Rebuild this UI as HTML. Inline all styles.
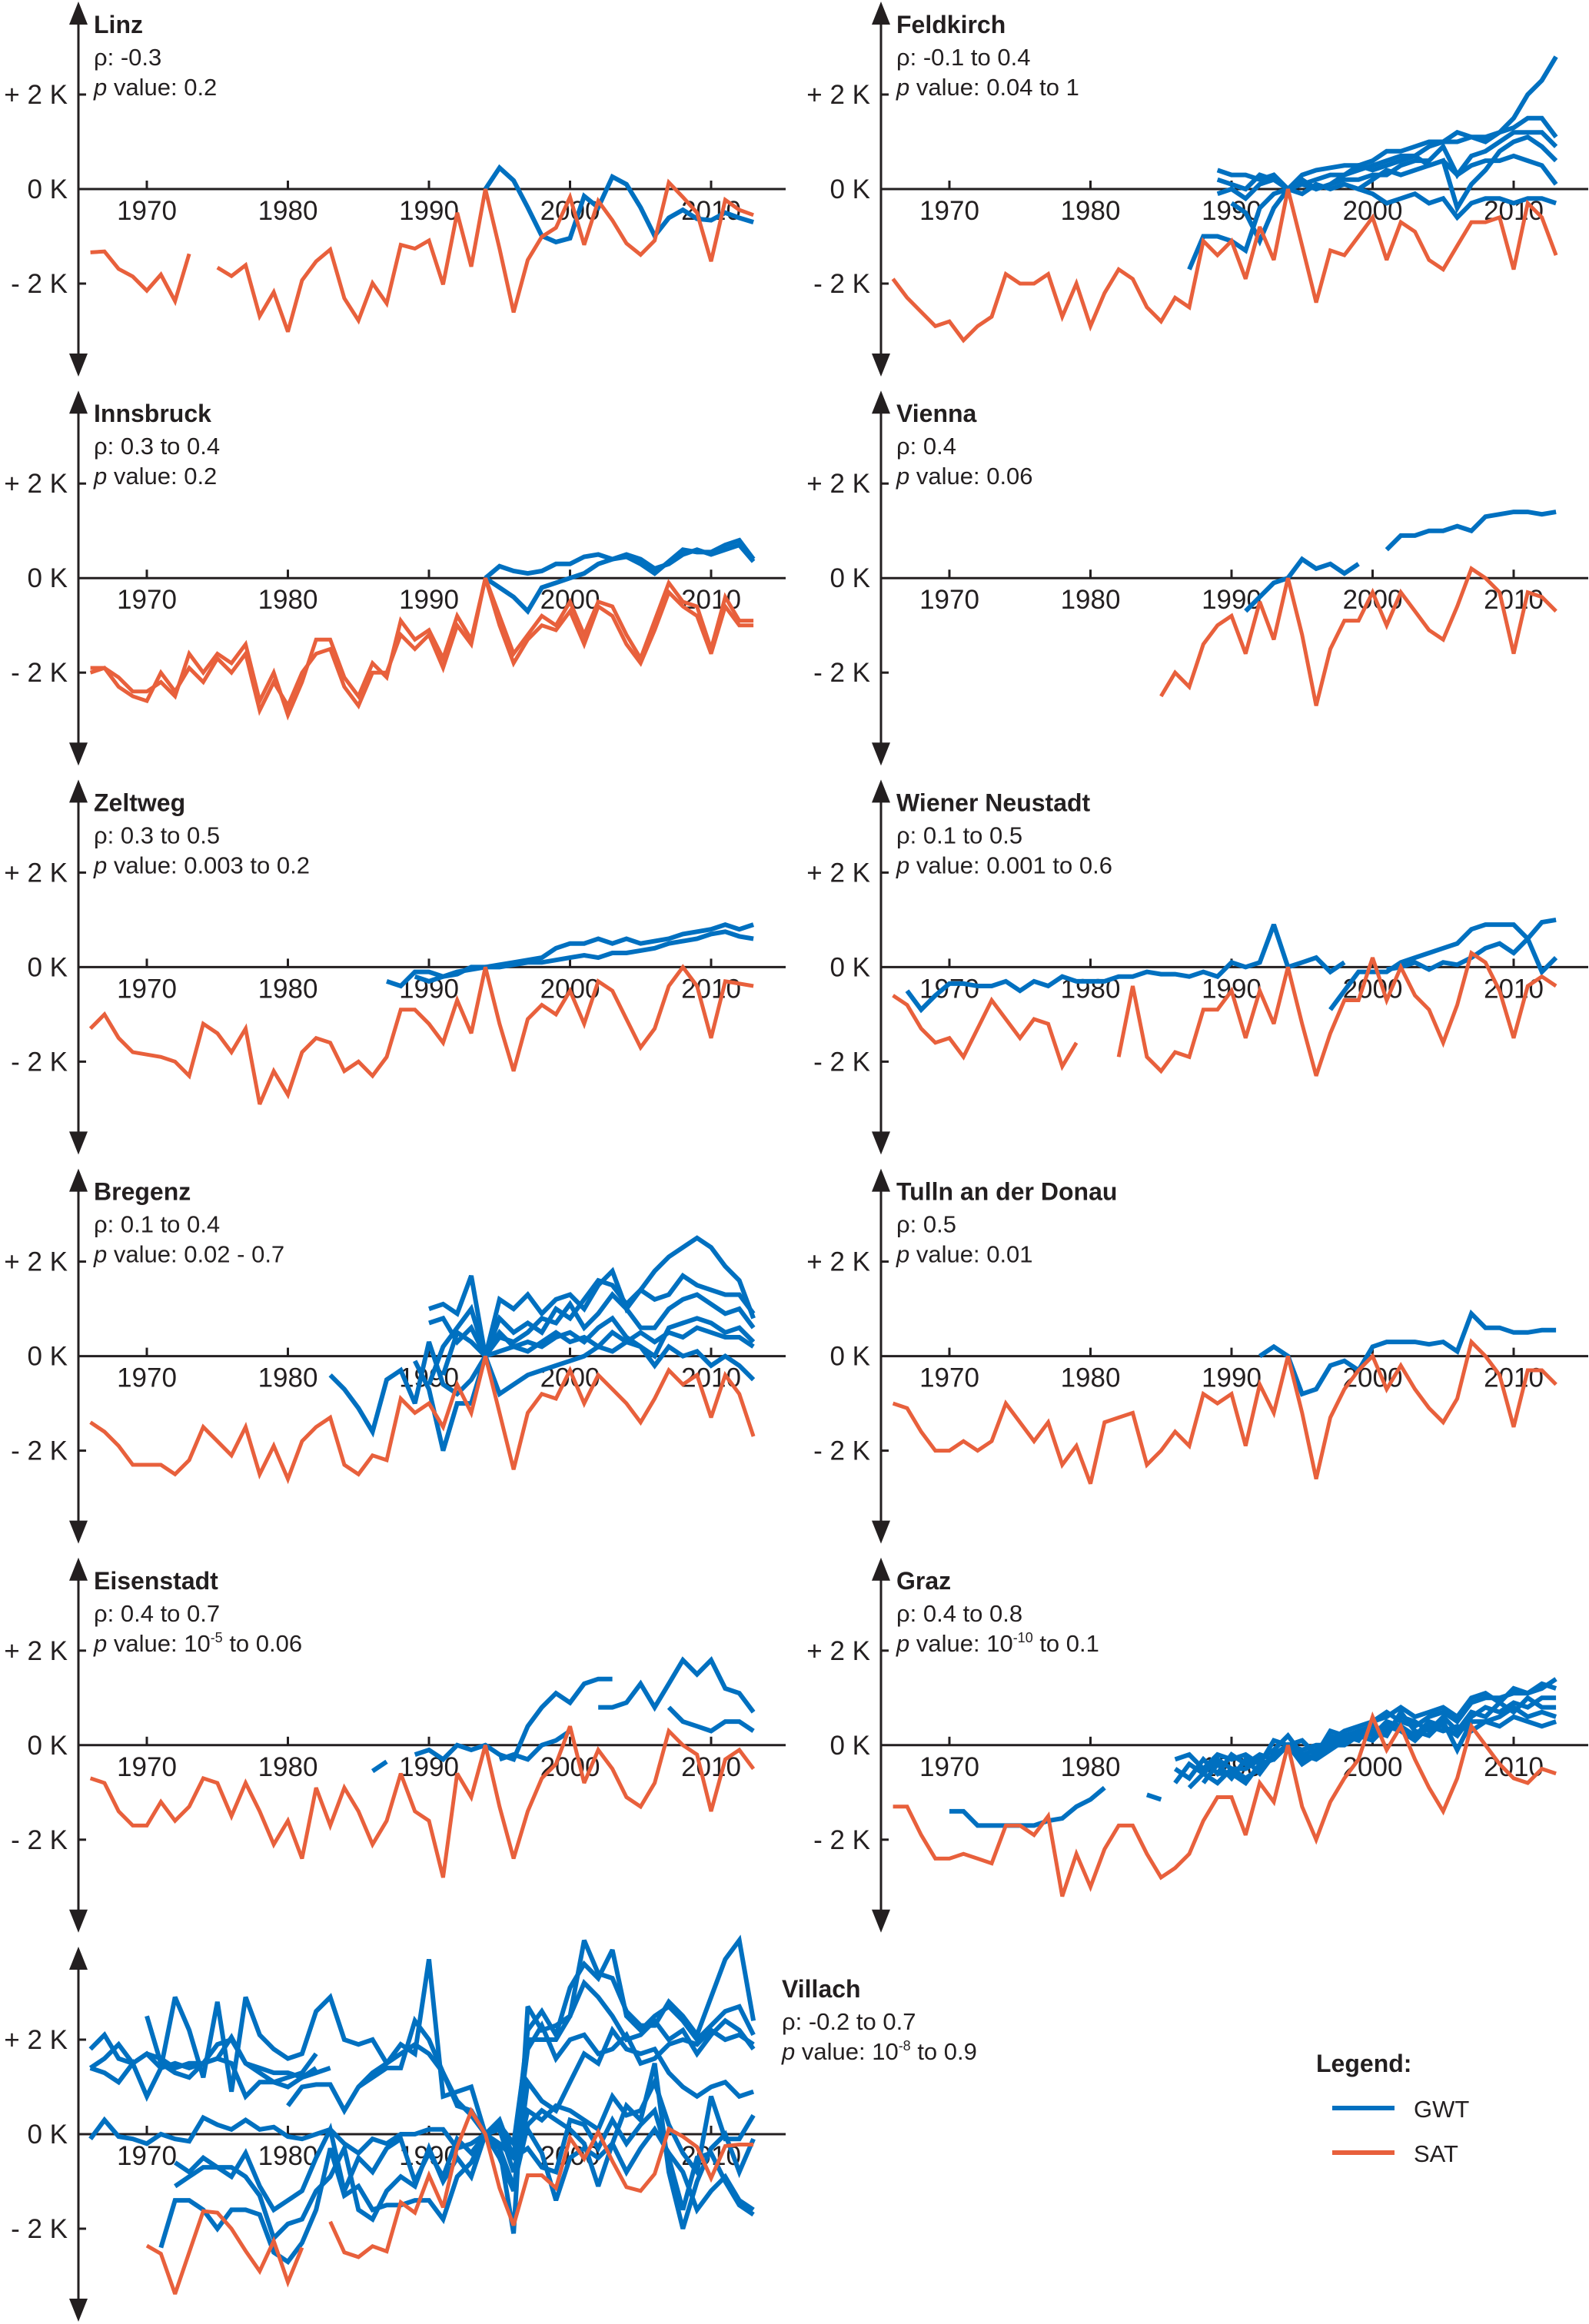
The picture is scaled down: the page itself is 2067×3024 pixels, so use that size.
<!DOCTYPE html>
<html><head><meta charset="utf-8">
<style>
html,body{margin:0;padding:0;background:#fff;}
svg{display:block;font-family:"Liberation Sans",Arial,sans-serif;}
.tick{font-size:35px;fill:#231f20;}
.title{font-size:32px;font-weight:bold;fill:#231f20;}
.info{font-size:31px;fill:#231f20;}
</style></head>
<body>
<svg id="chart" width="2067" height="3024" viewBox="0 0 2067 3024" xmlns="http://www.w3.org/2000/svg"></svg>
<script>
// ---- data (K anomaly, by year) ----
const yearTicks = [1970, 1980, 1990, 2000, 2010];
const valueTicks = [2, 0, -2];
const valueTickLabels = ["+ 2 K", "0 K", "- 2 K"];

const linzSAT = [-1.34,-1.32,-1.69,-1.85,-2.15,-1.81,-2.37,-1.37,null,-1.66,-1.84,-1.61,-2.69,-2.18,-3.02,-1.93,-1.53,-1.28,-2.31,-2.78,-1.99,-2.42,-1.18,-1.26,-1.09,-2.02,-0.5,-1.64,0,-1.26,-2.61,-1.5,-1.01,-0.82,-0.17,-1.18,-0.25,-0.66,-1.15,-1.39,-1.09,0.14,-0.17,-0.5,-1.53,-0.23,-0.44,-0.55];
const linzGWT = [0,0.45,0.18,-0.39,-0.99,-1.12,-1.04,-0.15,-0.39,0.26,0.1,-0.39,-0.99,-0.61,-0.44,-0.63,-0.66,-0.5,-0.61,-0.7];

const feldSAT = [-1.9,-2.3,-2.6,-2.9,-2.8,-3.2,-2.9,-2.7,-1.8,-2.0,-2.0,-1.8,-2.7,-2.0,-2.9,-2.2,-1.7,-1.9,-2.5,-2.8,-2.3,-2.5,-1.1,-1.4,-1.1,-1.9,-0.8,-1.5,0,-1.2,-2.4,-1.3,-1.4,-1.0,-0.6,-1.5,-0.7,-0.9,-1.5,-1.7,-1.2,-0.7,-0.7,-0.6,-1.7,-0.3,-0.6,-1.4];
const feldGWT1 = [-1.7,-1.0,-1.0,-1.1,-1.3,-0.4,-0.1,0,0.3,0.4,0.45,0.5,0.5,0.6,0.8,0.8,0.9,1.0,1.0,1.2,1.1,1.0,1.2,1.5,2.0,2.3,2.8];
const feldGWT2 = [0.4,0.3,0.3,0.2,0.3,0,0.1,0.2,0.3,0.3,0.4,0.5,0.6,0.7,0.7,0.9,1.0,1.0,1.1,1.1,1.2,1.3,1.5,1.5,1.1];
const feldGWT3 = [0.2,0.1,0.0,0.3,0.2,0,0.1,0.0,0.1,0.2,0.2,0.3,0.3,0.5,0.6,0.6,0.9,0.3,0.7,0.8,1.0,1.2,1.2,1.2,0.9];
const feldGWT4 = [-0.1,0.0,-0.2,0.1,0.2,0,-0.1,0.1,0.0,0.1,0.0,0.2,0.4,0.3,0.4,0.5,0.6,-0.4,0.1,0.4,0.8,1.0,1.1,0.9,0.6];
const feldGWT5 = [-0.3,-0.5,-1.1,-0.4,0,0.2,0.0,0.1,0.3,0.5,0.4,0.5,0.6,0.7,0.5,0.6,0.3,0.5,0.6,0.6,0.7,0.6,0.5,0.1];
const feldGWT6 = [0.0,-0.1,-0.3,-0.2,-0.1,-0.3,-0.2,-0.6,-0.3,-0.2,-0.2,-0.3,-0.2,-0.2,-0.3];

const innsSAT1 = [-1.9,-1.9,-2.1,-2.4,-2.4,-2.2,-2.5,-1.6,-2.0,-1.6,-1.8,-1.4,-2.6,-2.0,-2.9,-2.2,-1.3,-1.3,-2.1,-2.5,-1.8,-2.1,-0.9,-1.3,-1.1,-1.7,-0.8,-1.3,0,-0.8,-1.6,-1.2,-0.8,-1.0,-0.5,-1.2,-0.5,-0.6,-1.2,-1.7,-0.9,-0.1,-0.5,-0.6,-1.5,-0.4,-0.9,-0.9];
const innsSAT2 = [-2.0,-1.9,-2.3,-2.5,-2.6,-2.0,-2.4,-1.9,-2.2,-1.7,-2.0,-1.6,-2.8,-2.2,-2.7,-2.0,-1.6,-1.5,-2.3,-2.7,-2.0,-2.0,-1.2,-1.5,-1.2,-1.9,-1.0,-1.4,0,-1.0,-1.8,-1.3,-1.0,-1.1,-0.7,-1.4,-0.6,-0.8,-1.4,-1.8,-1.1,-0.3,-0.6,-0.8,-1.6,-0.6,-1.0,-1.0];
const innsGWT1 = [0,0.25,0.15,0.1,0.15,0.3,0.3,0.45,0.5,0.4,0.45,0.3,0.1,0.35,0.6,0.55,0.55,0.7,0.8,0.4];
const innsGWT2 = [0,-0.2,-0.4,-0.7,-0.2,-0.1,0,0.1,0.3,0.4,0.5,0.4,0.2,0.3,0.5,0.6,0.5,0.6,0.7,0.35];

const viennaSAT = [-2.5,-2.0,-2.3,-1.4,-1.0,-0.8,-1.6,-0.5,-1.3,0,-1.2,-2.7,-1.5,-0.9,-0.9,-0.3,-1.0,-0.3,-0.7,-1.1,-1.3,-0.6,0.2,0.0,-0.3,-1.6,-0.3,-0.4,-0.7];
const viennaGWT = [-0.7,-0.4,-0.1,0,0.4,0.2,0.3,0.1,0.3,null,0.6,0.9,0.9,1.0,1.0,1.1,1.0,1.3,1.35,1.4,1.4,1.35,1.4];

const zeltSAT = [-1.3,-1.0,-1.5,-1.8,-1.85,-1.9,-2.0,-2.3,-1.2,-1.4,-1.8,-1.3,-2.9,-2.2,-2.7,-1.8,-1.5,-1.6,-2.2,-2.0,-2.3,-1.9,-0.9,-0.9,-1.2,-1.6,-0.7,-1.4,0,-1.2,-2.2,-1.1,-0.8,-1.0,-0.5,-1.2,-0.3,-0.5,-1.1,-1.7,-1.3,-0.4,0.0,-0.4,-1.5,-0.3,-0.35,-0.4];
const zeltGWT1 = [-0.3,-0.4,-0.1,-0.1,-0.2,-0.15,0,0,0.05,0.1,0.15,0.2,0.4,0.5,0.5,0.6,0.5,0.6,0.5,0.55,0.6,0.7,0.75,0.8,0.9,0.8,0.9];
const zeltGWT2 = [-0.2,-0.3,-0.2,-0.1,-0.05,0,0.0,0.05,0.1,0.1,0.15,0.2,0.25,0.2,0.3,0.3,0.35,0.4,0.5,0.55,0.6,0.7,0.75,0.65,0.6];

const wnSAT = [-0.6,-0.8,-1.3,-1.6,-1.5,-1.9,-1.3,-0.7,-1.1,-1.5,-1.1,-1.2,-2.1,-1.6,null,null,-1.9,-0.4,-1.9,-2.2,-1.8,-1.9,-0.9,-0.9,-0.5,-1.5,-0.5,-1.2,0,-1.2,-2.3,-1.4,-0.7,-0.7,0.2,-0.7,0.0,-0.6,-0.9,-1.6,-0.8,0.3,0.1,-0.5,-1.5,-0.4,-0.2,-0.4];
const wnGWT1 = [-0.5,-0.9,-0.6,-0.35,-0.35,-0.4,-0.4,-0.3,-0.5,-0.3,-0.4,-0.2,-0.3,-0.3,-0.3,-0.2,-0.2,-0.1,-0.15,-0.15,-0.2,-0.1,-0.2,0.1,0.0,0.1,0.9,0,0.1,0.2,-0.1,0.1];
const wnGWT2 = [-0.9,-0.5,-0.1,-0.1,-0.1,0.1,0.2,0.3,0.4,0.5,0.8,0.9,0.9,0.9,0.6,0.95,1.0];
const wnGWT3 = [-0.05,0.0,0.1,-0.05,0.1,0.05,0.2,0.4,0.5,0.3,0.6,-0.1,0.2];

const bregSAT = [-1.4,-1.6,-1.9,-2.3,-2.3,-2.3,-2.5,-2.2,-1.5,-1.8,-2.1,-1.5,-2.5,-1.9,-2.6,-1.8,-1.5,-1.3,-2.3,-2.5,-2.1,-2.2,-0.9,-1.2,-1.0,-1.5,-0.6,-1.2,0,-1.2,-2.4,-1.2,-0.8,-0.9,-0.3,-1.0,-0.4,-0.7,-1.0,-1.4,-0.9,-0.3,-0.6,-0.4,-1.3,-0.4,-0.8,-1.7];
const bregGWT1 = [-0.4,-0.7,-1.1,-1.6,-0.5,-0.3,-1.0,0.3,-0.6,-0.8,-0.5,0,-0.8,-0.6,-0.4,-0.3,-0.2,-0.1,0.0,0.2,0.1,0.3,0.2,-0.2,0.2,0.0,0.1,-0.2,0.0,-0.2,-0.5];
const bregGWT2 = [-0.1,-0.7,-2.0,-1.0,-1.0,0,0.8,0.5,0.7,0.5,1.0,0.8,1.2,1.6,1.5,1.1,1.4,1.8,2.1,2.3,2.5,2.3,1.9,1.6,0.8];
const bregGWT3 = [1.0,1.1,0.9,1.7,0,1.2,1.0,1.3,0.9,1.2,1.3,1.0,1.5,1.8,1.0,1.4,1.2,1.3,1.7,1.5,1.4,1.3,1.3,0.9];
const bregGWT4 = [0.7,0.8,0.3,0.6,0,0.4,0.3,0.5,0.8,0.7,1.1,0.6,0.9,1.3,1.0,0.6,0.6,1.0,1.2,1.3,1.1,0.9,1.0,0.6];
const bregGWT5 = [-0.6,0.2,0.6,1.0,0,0.5,0.2,0.3,0.2,0.4,0.5,0.3,0.6,0.8,0.4,0.2,0.0,0.6,0.7,0.8,0.7,0.5,0.6,0.3];
const bregGWT6 = [-0.4,0.5,0.3,0,0.1,0.2,0.1,0.3,0.5,0.3,0.4,0.2,0.5,0.3,0.5,0.3,0.5,0.4,0.6,0.5,0.4,0.4,0.2];

const tullnSAT = [-1.0,-1.1,-1.6,-2.0,-2.0,-1.8,-2.0,-1.8,-1.0,-1.4,-1.8,-1.4,-2.3,-1.9,-2.7,-1.4,-1.3,-1.2,-2.3,-2.0,-1.6,-1.9,-0.8,-1.0,-0.8,-1.9,-0.6,-1.2,0,-1.2,-2.6,-1.3,-0.7,-0.3,0.0,-0.7,-0.2,-0.7,-1.1,-1.4,-0.9,0.3,0.0,-0.4,-1.5,-0.3,-0.3,-0.6];
const tullnGWT = [0,0.2,0,-0.8,-0.7,-0.2,-0.1,-0.3,0.2,0.3,0.3,0.3,0.25,0.3,0.1,0.9,0.6,0.6,0.5,0.5,0.55,0.55];

const eisSAT = [-0.7,-0.8,-1.4,-1.7,-1.7,-1.2,-1.6,-1.3,-0.7,-0.8,-1.5,-0.8,-1.4,-2.1,-1.6,-2.4,-0.9,-1.7,-0.9,-1.4,-2.1,-1.6,-0.6,-1.4,-1.6,-2.8,-0.6,-1.1,0,-1.3,-2.4,-1.4,-0.7,-0.4,0.4,-0.8,-0.1,-0.5,-1.1,-1.3,-0.8,0.3,0.0,-0.2,-1.4,-0.3,-0.1,-0.5];
const eisGWT0 = [-0.55,-0.35];
const eisGWT1 = [-0.2,-0.1,-0.3,0,-0.1,0,-0.2,-0.3,0.4,0.8,1.1,0.9,1.3,1.4,1.4];
const eisGWT2 = [0.8,0.8,0.9,1.3,0.8,1.3,1.8,1.5,1.8,1.2,1.1,0.7];
const eisGWT3 = [-0.3,-0.2,-0.3,0,0.1,0.3,null,null,null,null,null,null,0.8,0.5,0.4,0.3,0.5,0.5,0.3];

const grazSAT = [-1.3,-1.3,-1.9,-2.4,-2.4,-2.3,-2.4,-2.5,-1.7,-1.7,-1.9,-1.5,-3.2,-2.3,-3.0,-2.2,-1.7,-1.7,-2.3,-2.8,-2.6,-2.3,-1.6,-1.1,-1.1,-1.9,-0.8,-1.2,0,-1.3,-2.0,-1.2,-0.7,-0.3,0.6,-0.1,0.4,-0.3,-0.9,-1.4,-0.7,0.4,0.0,-0.4,-0.7,-0.8,-0.5,-0.6];
const grazGWT0 = [-1.4,-1.4,-1.7,-1.7,-1.7,-1.7,-1.7,-1.6,-1.55,-1.3,-1.15,-0.9,null,null,-1.05,-1.15];
const grazGWT1 = [-0.8,-0.4,-0.6,-0.3,-0.5,-0.5,-0.3,-0.1,0.2,-0.2,-0.1,0.1,0.3,0.4,0.5,0.7,0.5,0.4,0.6,0.7,0.5,0.9,1.0,1.0,1.1,1.1,1.2,1.4];
const grazGWT2 = [-0.5,-0.7,-0.3,-0.6,-0.2,-0.4,-0.2,-0.3,0,-0.3,-0.2,0.2,0.1,0.3,0.2,0.5,0.4,0.2,0.5,0.4,0.2,0.6,0.8,0.7,0.9,0.8,1.0,1.0];
const grazGWT3 = [-0.3,-0.2,-0.5,-0.2,-0.3,-0.2,-0.4,0.1,0,-0.1,0.0,0.0,0.2,0.3,0.4,0.3,0.6,0.5,0.3,0.6,0.3,0.7,0.6,0.9,0.7,1.0,0.8,0.8];
const grazGWT4 = [-0.9,-0.6,-0.8,-0.5,-0.7,-0.5,-0.2,0,-0.2,-0.3,-0.1,0.1,0.2,0.3,0.2,0.7,0.3,0.2,0.5,-0.1,0.5,0.5,0.6,0.8,0.6,0.7,0.6];
const grazGWT5 = [-0.8,-0.4,-0.7,-0.3,-0.6,-0.2,0,0.1,-0.2,0.3,0.2,0.1,0.5,0.6,0.8,0.6,0.7,0.8,0.6,1.0,1.1,0.9,1.2,1.1,1.3,1.2];
const grazGWT6 = [-0.6,-0.6,-0.8,-0.4,-0.3,0,-0.4,-0.2,0.0,0.0,0.2,0.1,0.4,0.3,0.1,0.4,0.3,0.4,0.3,0.5,0.4,0.6,0.5,0.4,0.5];

const villSAT = [-2.36,-2.53,-3.38,-2.5,-1.63,-1.66,-2.0,-2.47,-2.9,-2.26,-3.13,-2.4,null,-1.85,-2.5,-2.6,-2.37,-2.48,-1.44,-1.66,-0.87,-1.55,-0.27,0.49,0,-1.14,-1.93,-0.87,-0.87,-1.14,-0.08,-0.52,0.05,-0.57,-1.12,-1.2,-0.84,0.11,-0.05,-0.27,-0.93,-0.25,-0.22,-0.22];
const villGWT1 = [1.8,2.1,1.6,1.5,1.7,1.4,1.5,1.4,1.5,1.6,2.05,1.5,1.3,1.1,1.0,1.2,1.3,1.4];
const villGWT2 = [1.4,1.6,1.9,1.5,1.7,1.6,1.4,1.5,1.5,1.9,2.0,1.5,1.4,1.3,1.3,1.2,1.4];
const villGWT3 = [1.4,1.3,1.1,1.5,0.8,1.4,2.9,2.2,1.2,2.8,0.9,2.9,2.1,1.8,1.6,1.7,2.6,2.9,2.0,1.9,2.0,1.5,1.7,1.9,1.7,1.3,0.6,0.5,0];
const villGWT4 = [2.5,1.5,1.3,1.2,1.5,1.6,1.5,0.8,1.1,1.1,1.2,1.3,1.7];
const villGWT5 = [0.6,1.0,1.05,1.05,0.5,1.0,1.3,1.5,1.9,1.7,3.7,0.8,0.9,1.0,0];
const villGWT6 = [1.0,1.2,1.4,1.4,2.4,2.0,1.3,0.7,0.4,0];
const villGWT7 = [-0.1,0.3,-0.05,-0.1,-0.2,0,-0.1,-0.15,0.35,0.2,0.1,0.3,0.1,0.15,-0.05,-0.1,0.0,0.1,-0.2,-0.4,-0.1,-0.2,0.0,0.0,0.1,0.1,-0.3,-0.2,0];
const villGWT8 = [-0.6,-0.8,-0.5,-0.7,-0.9,-0.4,-1.1,-1.6,-1.4,-1.2,-0.5,0.1,-1.2,-0.5,-0.8,-0.3,-0.1,-1.0,-0.4,-0.9,-0.1,-0.4,0];
const villGWT9 = [-2.4,-1.4,-1.4,-1.6,-2.0,-1.6,-1.6,-1.7,-2.5,-2.7,-2.3,-1.6,-0.3,-1.3,-1.1,-1.6,-1.5,-1.5,-1.4,-1.4,-1.8,-0.9,-0.6,0];
const villGWT10 = [-1.1,-0.9,-0.7,-0.7,-0.7,-0.9,-1.3,-2.2,-1.9,-1.8,-1.2,-0.9,-0.3,-1.6,-1.8,-1.2,-0.9,-1.1,-0.3,-1.0,-0.5,-0.9,0];
const villGWT11 = [0,-0.3,-2.1,2.7,2.2,2.3,2.5,4.1,3.4,3.3,2.6,2.3,2.3,2.8,2.5,2.1,2.9,3.7,4.1,2.4];
const villGWT12 = [0,0.2,-0.5,2.2,2.6,2.1,3.1,3.6,3.3,3.9,2.5,2.2,2.5,2.7,2.4,2.0,2.3,2.6,2.7,2.1];
const villGWT13 = [0,0.1,-0.2,2.0,2.0,2.0,2.5,3.2,2.9,2.5,2.0,2.1,2.4,2.0,2.2,1.7,2.1,2.4,2.2,1.8];
const villGWT14 = [0,0.3,-0.5,1.8,2.3,1.6,2.0,2.1,1.7,1.8,2.1,1.5,1.6,1.9,2.0,1.9,2.2,2.0,2.1,1.9];
const villGWT15 = [0,-0.5,-1.2,1.1,0.7,0.5,1.1,1.7,1.5,2.2,1.8,1.7,1.8,1.3,1.0,0.8,1.0,1.1,0.8,0.9];
const villGWT16 = [0,0.1,-0.8,0.5,0.3,0.6,0.5,0.3,0.1,0.8,0.4,0.5,1.1,0.2,-0.4,-0.8,0.8,-0.1,-0.1,0.4];
const villGWT17 = [0,-0.2,-0.5,-0.3,-0.7,-0.8,0.3,0.2,-0.3,0.3,-0.2,0.2,0.5,-0.5,-1.6,-0.5,-0.4,-1.0,-1.5,-1.7];
const villGWT18 = [0,0.2,-0.2,0.1,-0.4,-1.4,-0.5,-0.3,-0.5,-0.2,-0.8,-0.3,0.1,-0.4,-0.8,-1.6,-1.2,-0.9,-1.4,-1.6];
const villGWT19 = [0,-0.3,-1.1,0.2,0.5,0.3,0.1,-0.2,-1.1,-0.2,0.6,0.3,1.5,-0.8,-2.0,-1.0,-0.3,0.0,-0.8,-0.1];

// ---- layout ----
const SVGNS = "http://www.w3.org/2000/svg";
const svg = document.getElementById("chart");
const BLUE = "#0070c0", RED = "#e8603c", INK = "#231f20";
const PX_PER_YEAR = 18.35, PX_PER_K = 61.5;

function mk(tag, attrs, parent) {
  const e = document.createElementNS(SVGNS, tag);
  for (const k in attrs) e.setAttribute(k, attrs[k]);
  (parent || svg).appendChild(e);
  return e;
}

const panels = [
  {key:"linz", name:"Linz", rho:"-0.3", p:["0.2"], col:0, row:0, sat:[[1966, linzSAT]], gwt:[[1994, linzGWT]]},
  {key:"feldkirch", name:"Feldkirch", rho:"-0.1 to 0.4", p:["0.04 to 1"], col:1, row:0, sat:[[1966, feldSAT]], gwt:[[1987, feldGWT1],[1989, feldGWT2],[1989, feldGWT3],[1989, feldGWT4],[1990, feldGWT5],[1999, feldGWT6]]},
  {key:"innsbruck", name:"Innsbruck", rho:"0.3 to 0.4", p:["0.2"], col:0, row:1, sat:[[1966, innsSAT1],[1966, innsSAT2]], gwt:[[1994, innsGWT1],[1994, innsGWT2]]},
  {key:"vienna", name:"Vienna", rho:"0.4", p:["0.06"], col:1, row:1, sat:[[1985, viennaSAT]], gwt:[[1991, viennaGWT]]},
  {key:"zeltweg", name:"Zeltweg", rho:"0.3 to 0.5", p:["0.003 to 0.2"], col:0, row:2, sat:[[1966, zeltSAT]], gwt:[[1987, zeltGWT1],[1989, zeltGWT2]]},
  {key:"wiener-neustadt", name:"Wiener Neustadt", rho:"0.1 to 0.5", p:["0.001 to 0.6"], col:1, row:2, sat:[[1966, wnSAT]], gwt:[[1967, wnGWT1],[1997, wnGWT2],[2001, wnGWT3]]},
  {key:"bregenz", name:"Bregenz", rho:"0.1 to 0.4", p:["0.02 - 0.7"], col:0, row:3, sat:[[1966, bregSAT]], gwt:[[1983, bregGWT1],[1989, bregGWT2],[1990, bregGWT3],[1990, bregGWT4],[1990, bregGWT5],[1991, bregGWT6]]},
  {key:"tulln", name:"Tulln an der Donau", rho:"0.5", p:["0.01"], col:1, row:3, sat:[[1966, tullnSAT]], gwt:[[1992, tullnGWT]]},
  {key:"eisenstadt", name:"Eisenstadt", rho:"0.4 to 0.7", p:["10","-5"," to 0.06"], col:0, row:4, sat:[[1966, eisSAT]], gwt:[[1986, eisGWT0],[1989, eisGWT1],[2002, eisGWT2],[1995, eisGWT3]]},
  {key:"graz", name:"Graz", rho:"0.4 to 0.8", p:["10","-10"," to 0.1"], col:1, row:4, sat:[[1966, grazSAT]], gwt:[[1970, grazGWT0],[1986, grazGWT1],[1986, grazGWT2],[1986, grazGWT3],[1987, grazGWT4],[1988, grazGWT5],[1989, grazGWT6]]},
  {key:"villach", name:"Villach", rho:"-0.2 to 0.7", p:["10","-8"," to 0.9"], col:0, row:5, sat:[[1970, villSAT]],
   gwt:[[1966, villGWT1],[1966, villGWT2],[1966, villGWT3],[1970, villGWT4],[1980, villGWT5],[1985, villGWT6],[1966, villGWT7],[1972, villGWT8],[1971, villGWT9],[1972, villGWT10],[1994, villGWT11],[1994, villGWT12],[1994, villGWT13],[1994, villGWT14],[1994, villGWT15],[1994, villGWT16],[1994, villGWT17],[1994, villGWT18],[1994, villGWT19]], textRight:true}
];

function drawPanel(pn) {
  const ax = pn.col ? 1146 : 102;
  const top = pn.row * 506.2;
  const zero = top + 246;
  const g = mk("g", {});
  
  
  const xOf = yr => ax + 89 + (yr - 1970) * PX_PER_YEAR;
  const yOf = v => zero - v * PX_PER_K;

  const axis = mk("line", {x1:ax, y1:top+28, x2:ax, y2:top+462, stroke:INK, "stroke-width":3}, g);
  
  
  const au = mk("polygon", {points:`${ax},${top+2} ${ax-12},${top+32} ${ax+12},${top+32}`, fill:INK}, g);
  
  
  const ad = mk("polygon", {points:`${ax},${top+490} ${ax-12},${top+460} ${ax+12},${top+460}`, fill:INK}, g);
  
  
  const zl = mk("line", {x1:ax, y1:zero, x2:Math.min(ax+920, 2067), y2:zero, stroke:INK, "stroke-width":3}, g);
  
  

  valueTicks.forEach((v, i) => {
    const y = yOf(v);
    if (v !== 0) mk("line", {x1:ax, y1:y, x2:ax+10, y2:y, stroke:INK, "stroke-width":3}, g);
    const t = mk("text", {x:ax-14, y:y+12, "text-anchor":"end", class:"tick"}, g);
    t.textContent = valueTickLabels[i];
    
    
  });
  yearTicks.forEach(yr => {
    const x = xOf(yr);
    mk("line", {x1:x, y1:zero-11, x2:x, y2:zero, stroke:INK, "stroke-width":3}, g);
    const t = mk("text", {x:x, y:zero+40, "text-anchor":"middle", class:"tick"}, g);
    t.textContent = yr;
    
    
  });

  function drawSeries(list, color, width, kind) {
    list.forEach(([start, arr], si) => {
      let d = "", pen = false;
      arr.forEach((v, i) => {
        if (v === null) { pen = false; return; }
        d += (pen ? "L" : "M") + xOf(start + i).toFixed(1) + "," + yOf(v).toFixed(1);
        pen = true;
      });
      const p = mk("path", {d:d, fill:"none", stroke:color, "stroke-width":width, "stroke-linejoin":"miter", "stroke-miterlimit":3}, g);
      
      
    });
  }
  drawSeries(pn.gwt, BLUE, 6, "gwt");
  drawSeries(pn.sat, RED, 5, "sat");

  let tx, ty;
  if (pn.textRight) { tx = 1017; ty = top + 68; } else { tx = ax + 20; ty = top + 43; }
  const ti = mk("text", {x:tx, y:ty, class:"title"}, g);
  ti.textContent = pn.name;
  
  
  const r = mk("text", {x:tx, y:ty+42, class:"info"}, g);
  r.textContent = "ρ: " + pn.rho;
  
  
  const pv = mk("text", {x:tx, y:ty+81, class:"info"}, g);
  
  
  const it = mk("tspan", {"font-style":"italic"}, pv); it.textContent = "p";
  if (pn.p.length === 1) {
    const s = mk("tspan", {}, pv); s.textContent = " value: " + pn.p[0];
  } else {
    const s = mk("tspan", {}, pv); s.textContent = "  value: " + pn.p[0];
    const sup = mk("tspan", {dy:-12, "font-size":18}, pv); sup.textContent = pn.p[1];
    const s2 = mk("tspan", {dy:12}, pv); s2.textContent = "  " + pn.p[2].trim();
  }
}
panels.forEach(drawPanel);

const lg = mk("g", {});


const lt = mk("text", {x:1712, y:2696, class:"title"}, lg);
lt.textContent = "Legend:";


[["GWT", BLUE, 2743], ["SAT", RED, 2801]].forEach(([lab, col, y]) => {
  const l = mk("line", {x1:1733, y1:y, x2:1814, y2:y, stroke:col, "stroke-width":6}, lg);
  
  
  const t = mk("text", {x:1839, y:y+12, class:"info"}, lg);
  t.textContent = lab;
  
  
});
</script>
</body></html>
